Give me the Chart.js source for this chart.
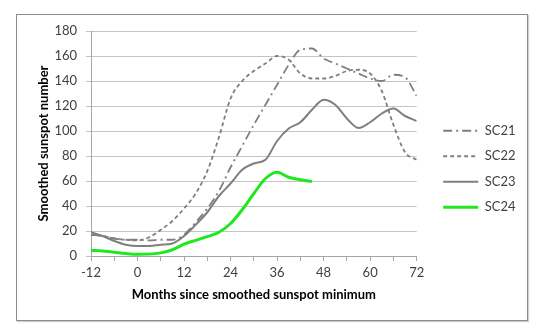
<!DOCTYPE html>
<html>
<head>
<meta charset="utf-8">
<script src="https://cdn.jsdelivr.net/npm/chart.js@4/dist/chart.umd.min.js"></script>
<style>
  body { margin: 0; background: #fff; }
  #wrap { position: relative; width: 538px; height: 332px; }
  #frame { position: absolute; left: 16px; top: 14px; width: 510px; height: 305px; border: 1px solid #8c8c8c; box-shadow: 1px 1px 1px #d0d0d0; }
  canvas { position: absolute; left: 0; top: 0; }
</style>
</head>
<body>
<div id="wrap">
  <div id="frame"></div>
  <canvas id="chart" width="538" height="332"></canvas>
</div>
<script>
const months = [-12, -9, -6, -3, 0, 3, 6, 9, 12, 15, 18, 21, 24, 27, 30, 33, 36, 39, 42, 45, 48, 51, 54, 57, 60, 63, 66, 69, 72];
const sc21 = [17, 16, 14, 13, 13, 12.5, 13, 13, 17, 27, 38, 52, 71, 88, 105, 121, 137, 153, 165, 166, 158, 154, 150, 146, 142, 140, 145, 143, 128];
const sc22 = [17, 16, 14, 13, 12.5, 15, 21, 28, 38, 50, 68, 95, 126, 140, 148, 154, 160, 157, 146, 142, 142, 144, 148, 149, 146, 132, 105, 83, 77];
const sc23 = [19, 16, 12, 9, 8, 8, 9, 10, 16, 25, 35, 48, 58, 69, 74, 77, 92, 102, 107, 117, 125, 121, 110, 102.5, 107, 114, 118, 112, 108];
const sc24 = [4.5, 4, 3, 2, 1.4, 1.5, 2.5, 5, 9.5, 12.5, 15.5, 19, 26, 37, 50, 62, 67, 63, 61, 59.5, null, null, null, null, null, null, null, null, null];

const xTicks = [-12, 0, 12, 24, 36, 48, 60, 72];
const yMax = 180;

function points(values) {
    return months
        .map((m, i) => ({ x: m, y: values[i] }))
        .filter((p) => p.y !== null);
}

const baseFont = { family: 'Lato', size: 13 };
const titleFont = { family: 'Lato', size: 13, weight: 'bold' };

// legend box is measured a few px too narrow and then clipped; give it some room
const legendRoom = {
    id: 'legendRoom',
    beforeLayout(chart) {
        const lg = chart.legend;
        if (lg && !lg._roomy) {
            const fit = lg.fit.bind(lg);
            lg.fit = function () {
                fit();
                this.width += 8;
            };
            lg._roomy = true;
        }
    }
};

new Chart(document.getElementById('chart'), {
    type: 'line',
    data: {
        datasets: [
            { label: 'SC21', data: points(sc21), borderColor: '#7f7f7f', borderWidth: 1.8, borderDash: [9, 4, 2, 4] },
            { label: 'SC22', data: points(sc22), borderColor: '#7f7f7f', borderWidth: 1.8, borderDash: [4, 3] },
            { label: 'SC23', data: points(sc23), borderColor: '#7f7f7f', borderWidth: 2 },
            { label: 'SC24', data: points(sc24), borderColor: '#1ee81e', borderWidth: 3 }
        ]
    },
    plugins: [legendRoom],
    options: {
        responsive: false,
        animation: false,
        elements: {
            point: { radius: 0 },
            line: { tension: 0.4, cubicInterpolationMode: 'monotone', fill: false }
        },
        layout: { padding: { left: 32, right: 18, top: 31, bottom: 25 } },
        plugins: {
            tooltip: { enabled: false },
            legend: {
                position: 'right',
                labels: {
                    usePointStyle: true,
                    pointStyleWidth: 35,
                    padding: 12.5,
                    color: '#404040',
                    font: baseFont,
                    generateLabels: (chart) => chart.data.datasets.map((ds, i) => ({
                        text: ds.label,
                        datasetIndex: i,
                        hidden: false,
                        pointStyle: 'line',
                        strokeStyle: ds.borderColor,
                        fillStyle: ds.borderColor,
                        lineWidth: ds.borderWidth,
                        lineDash: ds.borderDash || [],
                        fontColor: '#404040'
                    }))
                }
            }
        },
        scales: {
            x: {
                type: 'linear',
                min: -12,
                max: 72,
                afterBuildTicks: (scale) => {
                    const t = [];
                    for (let v = -12; v <= 72; v += 6) t.push({ value: v });
                    scale.ticks = t;
                },
                afterFit: (scale) => { scale.height = 51; },
                ticks: {
                    color: '#404040',
                    font: baseFont,
                    padding: 4,
                    maxRotation: 0,
                    autoSkip: false,
                    callback: (v) => (xTicks.includes(v) ? String(v) : '')
                },
                grid: { drawOnChartArea: false, drawTicks: true, tickLength: 5, color: '#a6a6a6' },
                border: { color: '#a6a6a6' },
                title: {
                    display: true,
                    text: 'Months since smoothed sunspot minimum',
                    color: '#000',
                    font: titleFont,
                    padding: { top: 2, bottom: 4 }
                }
            },
            y: {
                min: 0,
                max: yMax,
                afterFit: (scale) => { scale.width = 59; },
                ticks: { stepSize: 20, color: '#404040', font: baseFont, padding: 9 },
                grid: { color: '#c4c4c4', tickLength: 5 },
                border: { color: '#a6a6a6' },
                title: {
                    display: true,
                    text: 'Smoothed sunspot number',
                    color: '#000',
                    font: titleFont,
                    padding: { top: 4, bottom: 4 }
                }
            },
            gap: {
                position: 'right',
                display: true,
                min: 0,
                max: 1,
                afterFit: (scale) => { scale.width = 14; },
                ticks: { display: false },
                grid: { display: false },
                border: { display: false }
            }
        }
    }
});
</script>
</body>
</html>
